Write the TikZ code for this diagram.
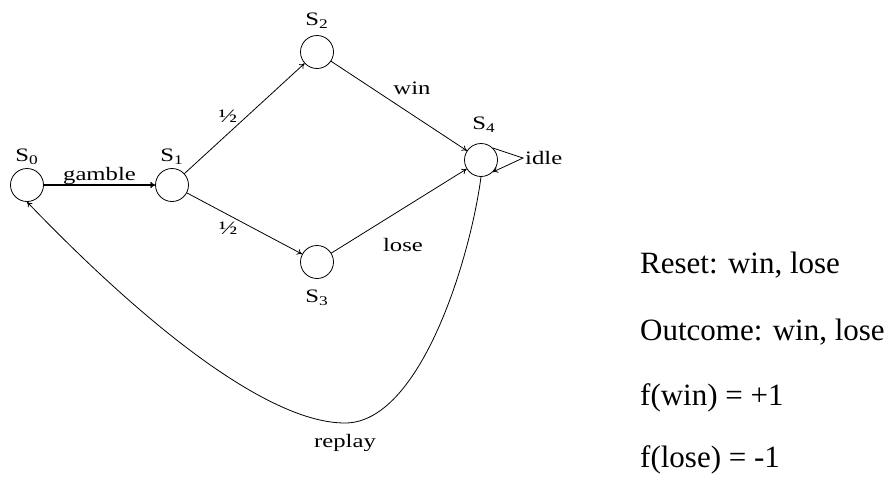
\documentclass[tikz,border=0pt]{standalone}
\usepackage{fontspec}
\setmainfont{Liberation Serif}
\usetikzlibrary{arrows.meta}
% wide label lettering
\newcommand{\wlab}[1]{\scalebox{1.3}[1]{#1}}
\begin{document}
\begin{tikzpicture}[x=1pt,y=-1pt,
  state/.style={draw,circle,minimum size=33pt,inner sep=0pt,line width=0.8pt},
  lab/.style={font=\fontsize{19}{21}\selectfont,inner sep=1pt},
  edge/.style={draw,line width=0.8pt,-{To[length=5pt,width=6pt]}},
  side/.style={font=\fontsize{31}{35}\selectfont,anchor=west,inner sep=0pt}]
\useasboundingbox[fill=white] (0,0) rectangle (888,479);
% states
\node[state] (s0) at (27,185) {};
\node[state] (s1) at (172,185) {};
\node[state] (s2) at (317,52) {};
\node[state] (s3) at (317,262) {};
\node[state] (s4) at (481,160) {};
\node[lab] at (27,157) {\wlab{S\textsubscript{0}}};
\node[lab] at (172,157) {\wlab{S\textsubscript{1}}};
\node[lab] at (317,21) {\wlab{S\textsubscript{2}}};
\node[lab] at (317,298) {\wlab{S\textsubscript{3}}};
\node[lab] at (484,125) {\wlab{S\textsubscript{4}}};
% transitions
\draw[edge,line width=1.4pt] (s0) -- node[lab,above,inner sep=0pt] {\wlab{gamble}} (s1);
\draw[edge] (s1) -- node[lab,pos=0.45,above left] {\wlab{½}} (s2);
\draw[edge] (s1) -- node[lab,pos=0.45,below left] {\wlab{½}} (s3);
\draw[edge] (s2) -- (s4);
\draw[edge] (s3) -- (s4);
\node[lab] at (412,88) {\wlab{win}};
\node[lab] at (403,245) {\wlab{lose}};
\draw[edge] (s4.north east) -- (523,158) -- (s4.south east);
\node[lab,anchor=west] at (524,158) {\wlab{idle}};
\coordinate (low) at (345,423);
\draw[edge] (s4.south) .. controls (470,260) and (420,423) .. (low)
  .. controls (270,423) and (150,330) .. (s0.south);
\node[lab] at (345,443) {\wlab{replay}};
% outcome notes
\node[side] at (640,265) {Reset: win, lose};
\node[side] at (640,332) {Outcome: win, lose};
\node[side] at (640,398) {f(win) = +1};
\node[side] at (640,460) {f(lose) = -1};
\end{tikzpicture}
\end{document}
